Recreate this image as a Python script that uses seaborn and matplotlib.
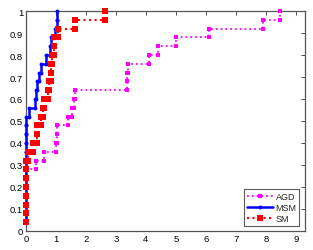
import numpy as np
import pandas as pd
import matplotlib
matplotlib.use("Agg")
import matplotlib.pyplot as plt
import seaborn as sns

# performance-profile ratios (sorted), one per problem; 25 problems
n_problems = 25
agd_ratio = [0, 0, 0, 0, 0, 0, 0, 0.32, 0.6, 1.0, 1.02, 1.05, 1.4, 1.52,
             1.6, 1.63, 3.36, 3.38, 3.41, 4.11, 4.41, 4.99, 6.1, 7.91, 8.47]
msm_ratio = [0, 0, 0, 0, 0, 0, 0, 0, 0, 0, 0, 0, 0, 0.1, 0.3, 0.32, 0.38,
             0.43, 0.49, 0.66, 0.8, 0.82, 0.97, 1.04, 1.05]
sm_ratio = [0, 0, 0, 0, 0, 0, 0, 0, 0.06, 0.25, 0.36, 0.38, 0.5, 0.58, 0.6,
            0.75, 0.78, 0.82, 0.85, 0.87, 0.95, 0.95, 1.07, 1.62, 2.63]

x_ticks = [0, 1, 2, 3, 4, 5, 6, 7, 8, 9]
y_ticks = [0, 0.1, 0.2, 0.3, 0.4, 0.5, 0.6, 0.7, 0.8, 0.9, 1]


def step_frame(ratios):
    """Turn sorted ratios into stair vertices (x, fraction solved)."""
    r = np.asarray(ratios, dtype=float)
    frac = np.arange(1, len(r) + 1) / n_problems
    xs, ys = [r[0]], [frac[0]]
    for i in range(1, len(r)):
        xs += [r[i], r[i]]
        ys += [frac[i - 1], frac[i]]
    return pd.DataFrame({"tau": xs, "rho": ys})


sns.set_style("white")
plt.rcParams["font.family"] = ["Liberation Sans", "DejaVu Sans"]

fig = plt.figure(figsize=(3.13, 2.51), dpi=100)
ax = fig.add_axes([0.083, 0.076, 0.891, 0.876])

series = [
    ("AGD", agd_ratio, "#ff00ff", ":", "s", 2.5, 1.3),
    ("MSM", msm_ratio, "#0000ff", "-", "o", 2.8, 1.8),
    ("SM", sm_ratio, "#ff0000", ":", "s", 4.2, 1.5),
]
for name, ratios, color, ls, mk, ms, lw in series:
    df = step_frame(ratios)
    sns.lineplot(data=df, x="tau", y="rho", ax=ax, sort=False, estimator=None,
                 color=color, linestyle=ls, marker=mk, markersize=ms,
                 markeredgewidth=0, linewidth=lw, label=name, clip_on=False,
                 zorder=3)

ax.set_xlim(0, 9.3)
ax.set_ylim(0, 1)
ax.set_xticks(x_ticks)
ax.set_xticklabels([str(t) for t in x_ticks])
ax.set_yticks(y_ticks)
ax.set_yticklabels(["0", "0.1", "0.2", "0.3", "0.4", "0.5", "0.6", "0.7",
                    "0.8", "0.9", "1"])
ax.set_xlabel("")
ax.set_ylabel("")
ax.tick_params(direction="in", length=3, width=0.6, labelsize=6.8, pad=2,
               top=True, right=True, colors="#333333", labelcolor="black")
for s in ax.spines.values():
    s.set_color("#555555")
    s.set_linewidth(0.9)

leg = ax.legend(loc="lower right", fontsize=6.5, frameon=True, fancybox=False,
                edgecolor="#333333", handlelength=2.9, borderpad=0.3,
                labelspacing=0.2, handletextpad=0.3, borderaxespad=0.6)
leg.get_frame().set_linewidth(0.8)
leg.set_zorder(5)

fig.savefig("out.png", dpi=100)
